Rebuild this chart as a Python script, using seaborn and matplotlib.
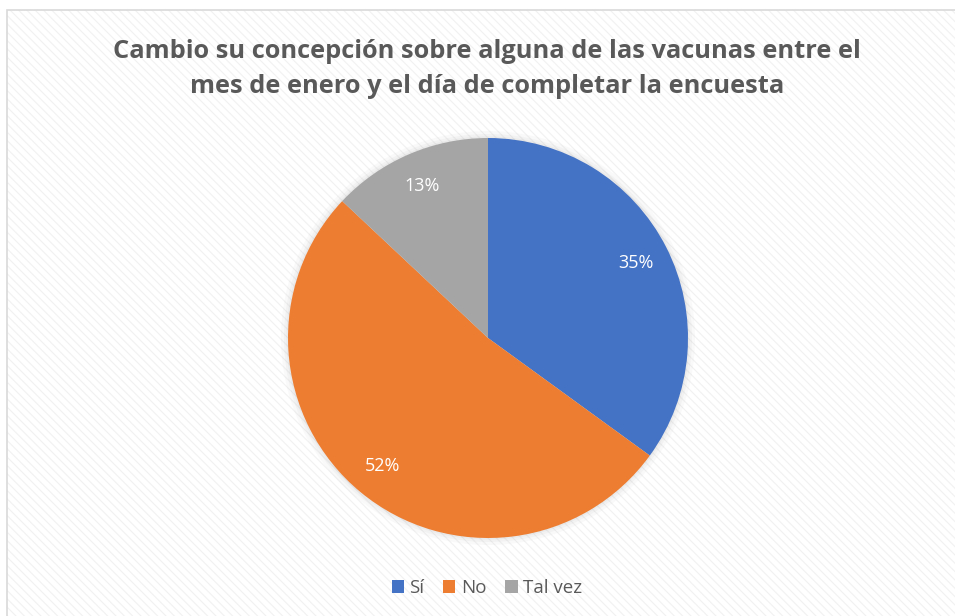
import matplotlib
matplotlib.use("Agg")
import matplotlib.pyplot as plt
from matplotlib.patches import Rectangle, Circle
import seaborn as sns

# Data
labels = ["Sí", "No", "Tal vez"]
values = [35, 52, 13]
colors = ["#4472C4", "#ED7D31", "#A5A5A5"]
title = ("Cambio su concepción sobre alguna de las vacunas entre el\n"
         "mes de enero y el día de completar la encuesta")

sns.set_theme(style="white")
plt.rcParams["font.family"] = ["Open Sans", "DejaVu Sans"]
plt.rcParams["hatch.linewidth"] = 0.8

fig = plt.figure(figsize=(9.55, 6.16), dpi=100)
fig.patch.set_facecolor("white")

# striped chart area with light border (behind everything)
W, H = 955, 616
bg = Rectangle((7 / W, 0), 1, 1 - 10 / H, transform=fig.transFigure,
               facecolor="white", edgecolor="#f1f1f1", hatch="\\\\\\\\",
               linewidth=0, zorder=-2)
fig.patches.append(bg)
border = Rectangle((7 / W, -0.01), 1.0, 1.01 - 10 / H, transform=fig.transFigure,
                   facecolor="none", edgecolor="#d9d9d9", linewidth=1.2, zorder=-1)
fig.patches.append(border)

ax = fig.add_axes([278 / W, 68 / H, 420 / W, 420 / H])
ax.set_facecolor("none")

# soft glow behind pie
for r, a in [(1.035, 0.05), (1.02, 0.07), (1.008, 0.09)]:
    ax.add_patch(Circle((0, 0), r, facecolor="#9a9a9a", alpha=a,
                        edgecolor="none", zorder=0))

wedges, texts, autotexts = ax.pie(
    values, colors=colors, startangle=90, counterclock=False,
    autopct="%1.0f%%", pctdistance=0.83,
    wedgeprops=dict(linewidth=0),
    textprops=dict(color="white", fontsize=13),
)
for w in wedges:
    w.set_zorder(2)
for t in autotexts:
    t.set_zorder(3)
ax.set_xlim(-1.05, 1.05)
ax.set_ylim(-1.05, 1.05)
ax.set_aspect("equal")
ax.axis("off")

fig.text(487 / W, 1 - 69 / H, title, ha="center", va="center",
         fontsize=18.3, fontweight="bold", color="#595959", linespacing=1.5)

fig.legend(wedges, labels, loc="center", bbox_to_anchor=(487 / W, 1 - 588 / H),
           ncol=3, frameon=False, fontsize=13.5, handlelength=0.65,
           handleheight=0.65, handletextpad=0.3, columnspacing=1.0,
           labelcolor="#595959")

fig.savefig("out.png", dpi=100, facecolor="white")
